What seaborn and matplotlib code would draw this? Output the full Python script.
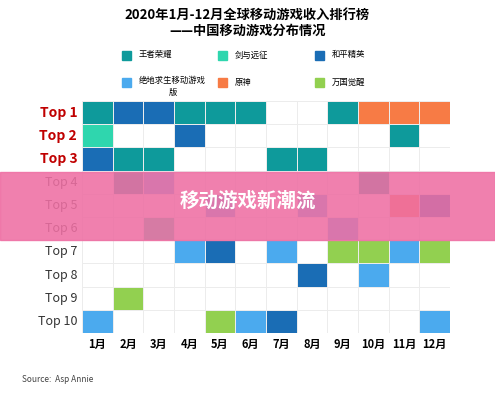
import matplotlib
matplotlib.use("Agg")
import matplotlib.pyplot as plt
import seaborn as sns
import numpy as np
from matplotlib.colors import ListedColormap
from matplotlib.patches import Rectangle

plt.rcParams['font.family'] = ['Noto Sans CJK SC', 'DejaVu Sans']

months = ["1月","2月","3月","4月","5月","6月","7月","8月","9月","10月","11月","12月"]
ranks = ["Top 1","Top 2","Top 3","Top 4","Top 5","Top 6","Top 7","Top 8","Top 9","Top 10"]
games = ["王者荣耀","剑与远征","和平精英","绝地求生移动游戏\n版","原神","万国觉醒"]
colors = ["#ffffff","#0E9A9B","#2FD6AE","#1A6DB5","#4BAAEE","#F77B45","#92D050"]
grid = [
    [1,3,3,1,1,1,0,0,1,5,5,5],
    [2,0,0,3,0,0,0,0,0,0,1,0],
    [3,1,1,0,0,0,1,1,0,0,0,0],
    [0,1,4,0,0,0,0,0,0,1,0,0],
    [0,0,0,0,4,0,0,4,0,0,5,3],
    [0,0,2,0,0,0,0,0,4,0,0,0],
    [0,0,0,4,3,0,4,0,6,6,4,6],
    [0,0,0,0,0,0,0,3,0,4,0,0],
    [0,6,0,0,0,0,0,0,0,0,0,0],
    [4,0,0,0,6,4,3,0,0,0,0,4],
]

fig = plt.figure(figsize=(4.95, 4.0), dpi=100)
ax = fig.add_axes([82/495, 1-333/400, 368/495, 232/400])
sns.heatmap(np.array(grid), cmap=ListedColormap(colors), vmin=-0.5, vmax=6.5,
            cbar=False, linewidths=0.4, linecolor="#ececec", ax=ax,
            xticklabels=months, yticklabels=ranks)
ax.tick_params(length=0)
ax.set_xticklabels(months, fontsize=8, fontweight='bold', rotation=0)
ax.set_yticklabels(ranks, rotation=0, fontsize=9)
for i, t in enumerate(ax.get_yticklabels()):
    if i < 3:
        t.set_color("#C00000"); t.set_fontweight('bold'); t.set_fontstyle('italic'); t.set_fontsize(10)
    else:
        t.set_color("#333333")

fig.text(0.5, 1-15/400, "2020年1月-12月全球移动游戏收入排行榜", ha='center', va='center', fontsize=9.5, fontweight='bold')
fig.text(0.5, 1-31/400, "——中国移动游戏分布情况", ha='center', va='center', fontsize=9.5, fontweight='bold')

pos = [(122,55),(218,55),(315,55),(122,82),(218,82),(315,82)]
for (x,y), g, c in zip(pos, games, colors[1:]):
    fig.patches.append(Rectangle((x/495, 1-(y+5)/400), 9/495, 9/400, transform=fig.transFigure, color=c))
    if '\n' in g:
        fig.text((x+17)/495, 1-(y-6)/400, g, ha='left', va='top', fontsize=6, linespacing=1.4,
                 multialignment='center')
    else:
        fig.text((x+17)/495, 1-y/400, g, ha='left', va='center', fontsize=6)

fig.patches.append(Rectangle((0, 1-240/400), 1, 68/400, transform=fig.transFigure,
                             color="#EE6FA3", alpha=0.88, zorder=10))
fig.text(0.5, 1-201/400, "移动游戏新潮流", ha='center', va='center', fontsize=14, fontweight='bold',
         color='white', zorder=11)
fig.text(22/495, 1-382/400, "Source:  Asp Annie", fontsize=6, color="#444444")
fig.savefig("out.png", dpi=100)
